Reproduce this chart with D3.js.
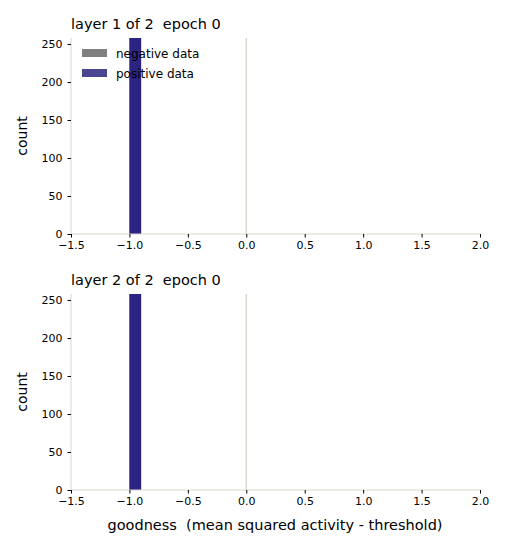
<!DOCTYPE html>
<html><head><meta charset="utf-8">
<script src="https://cdn.jsdelivr.net/npm/d3@7"></script>
<style>body{margin:0;background:#fff;font-family:"DejaVu Sans",sans-serif;}</style>
</head><body>
<script>
// data
var layers = ["layer 1 of 2  epoch 0", "layer 2 of 2  epoch 0"];
var binStart = [-1.0];
var binEnd = [-0.9];
var negCounts = [300];
var posCounts = [300];
var xTicks = [-1.5, -1.0, -0.5, 0.0, 0.5, 1.0, 1.5, 2.0];
var yTicks = [0, 50, 100, 150, 200, 250];

var svg = d3.select("body").append("svg").attr("width", 506).attr("height", 550);

var x = d3.scaleLinear().domain([-1.5, 2.0]).range([71, 480]);
var tops = [38, 294];

layers.forEach(function(title, li){
    var top = tops[li], bottom = top + 196;
    var y = d3.scaleLinear().domain([0, 258]).range([bottom, top]);
    var g = svg.append("g");
    var clipId = "c" + li;
    svg.append("clipPath").attr("id", clipId).append("rect")
        .attr("x", 71).attr("y", top).attr("width", 409).attr("height", 196);

    // zero line
    g.append("line").attr("x1", x(0)).attr("x2", x(0)).attr("y1", top).attr("y2", bottom)
        .attr("stroke", "#d8d6cc").attr("stroke-width", 1.5);

    var bars = g.append("g").attr("clip-path", "url(#" + clipId + ")");
    bars.selectAll(".neg").data(binStart).enter().append("rect")
        .attr("x", function(d){ return x(d); })
        .attr("width", function(d, i){ return x(binEnd[i]) - x(d); })
        .attr("y", function(d, i){ return y(negCounts[i]); })
        .attr("height", function(d, i){ return bottom - y(negCounts[i]); })
        .attr("fill", "#808080");
    bars.selectAll(".pos").data(binStart).enter().append("rect")
        .attr("x", function(d){ return x(d); })
        .attr("width", function(d, i){ return x(binEnd[i]) - x(d); })
        .attr("y", function(d, i){ return y(posCounts[i]); })
        .attr("height", function(d, i){ return bottom - y(posCounts[i]); })
        .attr("fill", "#2b2483");

    // spines
    g.append("line").attr("x1", 71).attr("x2", 71).attr("y1", top).attr("y2", bottom).attr("stroke", "#d8d6cc");
    g.append("line").attr("x1", 71).attr("x2", 480).attr("y1", bottom).attr("y2", bottom).attr("stroke", "#d8d6cc");

    var xa = g.append("g").attr("transform", "translate(0," + bottom + ")")
        .call(d3.axisBottom(x).tickValues(xTicks).tickFormat(d3.format(".1f")).tickSize(3.5).tickPadding(4));
    var ya = g.append("g").attr("transform", "translate(71,0)")
        .call(d3.axisLeft(y).tickValues(yTicks).tickSize(3.5).tickPadding(5));
    [xa, ya].forEach(function(a){
        a.select(".domain").remove();
        a.selectAll("text").attr("font-size", 11).attr("font-family", "DejaVu Sans").attr("fill", "#000");
        a.selectAll("line").attr("stroke", "#000");
    });

    g.append("text").attr("x", 71).attr("y", top - 9).attr("font-size", 14.5).text(title.replace(/ /g, "\u00a0"));
    g.append("text").attr("transform", "translate(27," + (top + 98) + ") rotate(-90)")
        .attr("text-anchor", "middle").attr("font-size", 14).text("count");

    if (li === 0) {
        var leg = [["negative data", "#808080"], ["positive data", "#4b4690"]];
        leg.forEach(function(l, k){
            g.append("rect").attr("x", 82).attr("y", top + 11 + k * 20).attr("width", 25).attr("height", 8).attr("fill", l[1]);
            g.append("text").attr("x", 116).attr("y", top + 20 + k * 20).attr("font-size", 12).text(l[0]);
        });
    }
});

svg.append("text").attr("x", 275).attr("y", 530).attr("text-anchor", "middle").attr("font-size", 14.5)
    .text("goodness\u00a0\u00a0(mean squared activity - threshold)");
</script>
</body></html>
